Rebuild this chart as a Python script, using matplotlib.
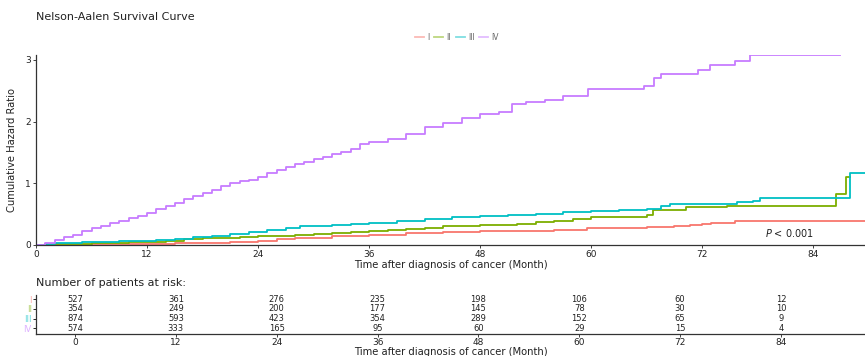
import matplotlib
matplotlib.use("Agg")
import matplotlib.pyplot as plt
from matplotlib.lines import Line2D

# ---------------- data ----------------
groups = ["I", "II", "III", "IV"]
colors = ["#F8766D", "#7CAE00", "#00BFC4", "#C77CFF"]

t_I = [0, 3, 6, 9, 12, 15, 18, 21, 24, 26, 28, 30, 32, 34, 36, 40, 44, 48, 52, 56,
       59.5, 62, 66, 69, 70.7, 72, 73, 75.6, 89.6]
v_I = [0, 0.005, 0.01, 0.015, 0.02, 0.025, 0.03, 0.05, 0.07, 0.09, 0.11, 0.12, 0.14, 0.15,
       0.17, 0.19, 0.21, 0.22, 0.23, 0.24, 0.27, 0.28, 0.29, 0.30, 0.32, 0.34, 0.35, 0.39, 0.39]

t_II = [0, 2, 4, 6, 8, 10, 12, 14, 16, 18, 20, 22, 24, 26, 28, 30, 32, 34, 36, 38, 40, 42,
        44, 46, 48, 50, 52, 54, 56, 58, 60, 62, 64, 66, 66.7, 70.2, 74.7, 86.5, 87.5, 88]
v_II = [0, 0.01, 0.02, 0.03, 0.04, 0.045, 0.055, 0.07, 0.09, 0.11, 0.12, 0.13, 0.14, 0.15,
        0.16, 0.18, 0.20, 0.21, 0.22, 0.24, 0.26, 0.28, 0.30, 0.31, 0.32, 0.32, 0.34, 0.37,
        0.39, 0.42, 0.45, 0.46, 0.46, 0.48, 0.57, 0.61, 0.64, 0.82, 1.11, 1.11]

t_III = [0, 1, 2, 3, 5, 7, 9, 11, 13, 15, 17, 19, 21, 23, 25, 27, 28.5, 30, 32, 34, 36, 39,
         42, 45, 48, 51, 54, 57, 60, 63, 66, 67.5, 68.5, 73, 75.8, 77.5, 78.2, 88, 89.6]
v_III = [0, 0.01, 0.025, 0.04, 0.05, 0.055, 0.065, 0.07, 0.08, 0.10, 0.13, 0.15, 0.18, 0.21,
         0.24, 0.27, 0.30, 0.31, 0.32, 0.34, 0.36, 0.39, 0.42, 0.45, 0.47, 0.49, 0.51, 0.53,
         0.55, 0.56, 0.59, 0.63, 0.66, 0.67, 0.69, 0.72, 0.77, 1.17, 1.17]

t_IV = [0, 1, 2, 3, 4, 5, 6, 7, 8, 9, 10, 11, 12, 13, 14, 15, 16, 17, 18, 19, 20, 21, 22, 23,
        24, 25, 26, 27, 28, 29, 30, 31, 32, 33, 34, 35, 36, 38, 40, 42, 44, 46, 48, 50, 51.5,
        53, 55, 57, 59.7, 65.7, 66.8, 67.6, 71.5, 72.8, 75.5, 77.2, 86.9]
v_IV = [0, 0.04, 0.08, 0.13, 0.17, 0.22, 0.27, 0.31, 0.35, 0.39, 0.43, 0.47, 0.52, 0.58, 0.63,
        0.68, 0.74, 0.79, 0.84, 0.89, 0.95, 1.00, 1.03, 1.06, 1.10, 1.17, 1.22, 1.27, 1.31,
        1.35, 1.39, 1.43, 1.47, 1.51, 1.56, 1.64, 1.67, 1.72, 1.80, 1.91, 1.98, 2.06, 2.12,
        2.16, 2.29, 2.32, 2.35, 2.42, 2.53, 2.58, 2.71, 2.78, 2.83, 2.91, 2.98, 3.08, 3.08]

times = [t_I, t_II, t_III, t_IV]
values = [v_I, v_II, v_III, v_IV]

risk_ticks = [0, 12, 24, 36, 48, 60, 72, 84]
risk_I = [527, 361, 276, 235, 198, 106, 60, 12]
risk_II = [354, 249, 200, 177, 145, 78, 30, 10]
risk_III = [874, 593, 423, 354, 289, 152, 65, 9]
risk_IV = [574, 333, 165, 95, 60, 29, 15, 4]
risk = [risk_I, risk_II, risk_III, risk_IV]

# ---------------- figure ----------------
W, H = 865, 356
fig = plt.figure(figsize=(W / 100, H / 100), dpi=100)
plt.rcParams['mathtext.fontset'] = 'dejavusans'

def fx(px):
    return px / W

def fy(py):
    return 1 - py / H

spine_col = "#333333"
text_col = "#222222"

ax = fig.add_axes([fx(36), fy(245), fx(865) - fx(36), fy(55) - fy(245)])
for t, v, c, g in zip(times, values, colors, groups):
    ax.plot(t, v, drawstyle="steps-post", color=c, lw=1.3, label=g)
ax.set_xlim(0, 89.6)
ax.set_ylim(0, 3.08)
ax.set_xticks(risk_ticks)
ax.set_yticks([0, 1, 2, 3])
ax.tick_params(labelsize=6.5, length=2.5, width=0.6, pad=1, colors=text_col)
for s in ["top", "right"]:
    ax.spines[s].set_visible(False)
for s in ["left", "bottom"]:
    ax.spines[s].set_color(spine_col)
    ax.spines[s].set_linewidth(0.9)
ax.set_xlabel("Time after diagnosis of cancer (Month)", fontsize=7.2, labelpad=1, color=text_col)
ax.set_ylabel("Cumulative Hazard Ratio", fontsize=7.2, labelpad=6, color=text_col)
ax.text(81.5, 0.19, r"$P$ < 0.001", fontsize=7, ha="center", va="center", color=text_col)

fig.text(fx(36), fy(17), "Nelson-Aalen Survival Curve", fontsize=8, ha="left", va="center",
         color=text_col)

handles = [Line2D([0], [0], color=c, lw=1.3, alpha=0.5) for c in colors]
leg = fig.legend(handles, groups, loc="center", bbox_to_anchor=(fx(457), fy(37)), ncol=4,
                 frameon=False, fontsize=5.5, handlelength=1.2, handletextpad=0.4,
                 columnspacing=0.6, borderaxespad=0)
for txt in leg.get_texts():
    txt.set_color("#666666")

fig.text(fx(36), fy(283), "Number of patients at risk:", fontsize=8, ha="left", va="center",
         color=text_col)

# ---------------- risk table ----------------
ax2 = fig.add_axes([fx(36), fy(334), fx(865) - fx(36), fy(295) - fy(334)])
ax2.set_xlim(-4.64, 94)
ax2.set_ylim(-0.59, 3.45)
rows_y = [3, 2, 1, 0]
for r, yy in zip(risk, rows_y):
    for xt, n in zip(risk_ticks, r):
        ax2.text(xt, yy, str(n), ha="center", va="center", fontsize=6, color=text_col)
ax2.set_xticks(risk_ticks)
ax2.set_yticks(rows_y)
ax2.set_yticklabels(groups)
for lab, c in zip(ax2.get_yticklabels(), colors):
    lab.set_color(c)
    lab.set_alpha(0.6)
ax2.tick_params(axis="x", labelsize=6.5, length=2, width=0.6, pad=1, colors=text_col)
ax2.tick_params(axis="y", labelsize=6, length=2, width=0.6, pad=1)
for s in ["top", "right"]:
    ax2.spines[s].set_visible(False)
for s in ["left", "bottom"]:
    ax2.spines[s].set_color(spine_col)
    ax2.spines[s].set_linewidth(0.9)
ax2.set_xlabel("Time after diagnosis of cancer (Month)", fontsize=7.2, labelpad=0, color=text_col)

fig.savefig("out.png", dpi=100)
